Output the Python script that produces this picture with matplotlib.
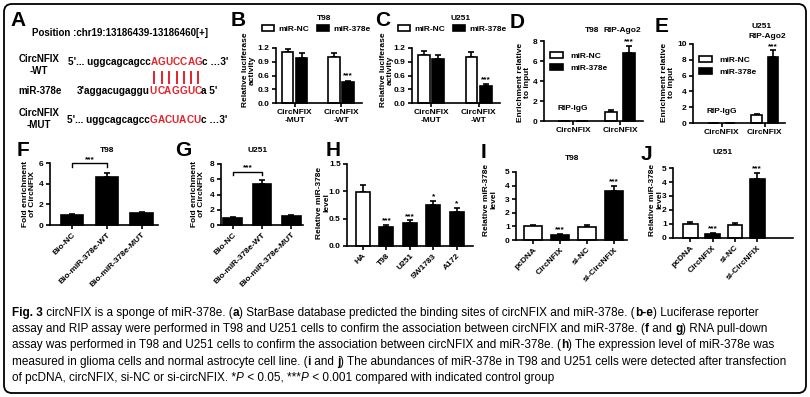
import matplotlib
matplotlib.use('Agg')
import matplotlib.pyplot as plt
from matplotlib import font_manager
from matplotlib.patches import Patch, FancyBboxPatch
import numpy as np

W, H = 810, 397

# ---------------- data ----------------
luc_groups = ['CircNFIX\n-MUT', 'CircNFIX\n-WT']
b_nc, b_nc_err = [1.11, 1.01], [0.07, 0.09]
b_mir, b_mir_err = [0.99, 0.45], [0.09, 0.04]
c_nc, c_nc_err = [1.05, 1.00], [0.08, 0.12]
c_mir, c_mir_err = [0.96, 0.37], [0.09, 0.04]
luc_stars = ['', '***']

rip_groups = ['CircNFIX', 'CircNFIX']
d_nc, d_nc_err = [0.04, 0.95], [0.0, 0.15]
d_mir, d_mir_err = [0.04, 6.8], [0.0, 0.75]
e_nc, e_nc_err = [0.05, 1.02], [0.0, 0.15]
e_mir, e_mir_err = [0.05, 8.3], [0.0, 0.9]

pull_labels = ['Bio-NC', 'Bio-miR-378e-WT', 'Bio-miR-378e-MUT']
f_vals, f_err = [1.0, 4.6, 1.15], [0.1, 0.45, 0.15]
g_vals, g_err = [0.95, 5.35, 1.2], [0.12, 0.55, 0.12]

cell_labels = ['HA', 'T98', 'U251', 'SW1783', 'A172']
h_vals = [0.98, 0.35, 0.42, 0.75, 0.63]
h_err = [0.14, 0.04, 0.05, 0.08, 0.07]
h_stars = ['', '***', '***', '*', '*']
h_fill = ['white', 'black', 'black', 'black', 'black']

tf_labels = ['pcDNA', 'CircNFIX', 'si-NC', 'si-CircNFIX']
i_vals, i_err = [1.0, 0.35, 0.95, 3.6], [0.12, 0.07, 0.12, 0.4]
j_vals, j_err = [1.02, 0.32, 0.93, 4.2], [0.1, 0.06, 0.15, 0.42]
tf_stars = ['', '***', '', '***']
tf_fill = ['white', 'black', 'white', 'black']

RED = '#e8202a'

# ---------------- fonts ----------------
names = {f.name for f in font_manager.fontManager.ttflist}
NARROW = 'Liberation Sans Narrow' if 'Liberation Sans Narrow' in names else 'Liberation Sans'
WIDE = 'Liberation Sans'
plt.rcParams['font.family'] = [NARROW, 'DejaVu Sans']
plt.rcParams['font.weight'] = 'bold'
FS = 6.0

fig = plt.figure(figsize=(W / 100, H / 100), dpi=100)
bg = fig.add_axes([0, 0, 1, 1], zorder=0)
bg.set_xlim(0, W)
bg.set_ylim(H, 0)
bg.axis('off')
renderer = fig.canvas.get_renderer()

# outer frame
bg.add_patch(FancyBboxPatch((4, 4), W - 8, H - 8, boxstyle='round,pad=0,rounding_size=8',
                            facecolor='none', edgecolor='black', linewidth=1.3))


def width(txt, **kw):
    a = bg.text(0, 0, '|' + txt + '|', **kw)
    b = bg.text(0, 0, '||', **kw)
    w = a.get_window_extent(renderer).width - b.get_window_extent(renderer).width
    a.remove()
    b.remove()
    return w


def runs(x, y, parts, size, family, draw=True):
    """Draw text pieces one after another on a line; return char centres of red pieces."""
    centres = []
    for txt, st in parts:
        kw = dict(fontsize=size, family=family, va='center', ha='left',
                  fontweight='bold' if st in ('b', 'r') else 'normal',
                  fontstyle='italic' if st == 'i' else 'normal',
                  color=RED if st == 'r' else 'black')
        if st == 'r':
            for ch in txt:
                w = width(ch, **kw)
                if draw:
                    bg.text(x, y, ch, **kw)
                centres.append(x + w / 2)
                x += w
        else:
            if draw:
                bg.text(x, y, txt, **kw)
            x += width(txt, **kw)
    return centres if draw else x


def letter(x, y, s):
    bg.text(x, y, s, fontsize=15, fontweight='bold', family=WIDE, ha='center', va='center')


def ylab(x, y, s):
    bg.text(x, y, s, rotation=90, ha='center', va='center', fontsize=FS,
            multialignment='center', linespacing=1.0)


def ctext(x, y, s, size=FS):
    bg.text(x, y, s, ha='center', va='center', fontsize=size)


def add_ax(l, t, r, b, xlim, yticks, fmt='%g'):
    ax = fig.add_axes([l / W, 1 - b / H, (r - l) / W, (b - t) / H], zorder=2)
    for s in ('top', 'right'):
        ax.spines[s].set_visible(False)
    for s in ('left', 'bottom'):
        ax.spines[s].set_linewidth(1.2)
    ax.tick_params(direction='out', length=3, width=1.2, labelsize=FS, pad=1.5)
    ax.patch.set_alpha(0)
    ax.set_xlim(*xlim)
    ax.set_ylim(yticks[0], yticks[-1])
    ax.set_yticks(yticks)
    ax.set_yticklabels([fmt % v for v in yticks])
    return ax


def bars(ax, x, vals, errs, fills, w):
    ax.bar(x, vals, w, color=fills, edgecolor='black', linewidth=1.2, zorder=2, clip_on=False)
    ax.errorbar(x, vals, yerr=[np.zeros(len(vals)), errs], fmt='none', ecolor='black',
                elinewidth=1.2, capsize=2.5, capthick=1.2, zorder=1, clip_on=False)


def stars(ax, x, vals, errs, marks, pad):
    for xi, v, e, m in zip(x, vals, errs, marks):
        if m:
            ax.text(xi, v + e + pad, m, ha='center', va='bottom', fontsize=FS, clip_on=False)


# ---------------- panel A ----------------
letter(18, 20, 'A')
bg.text(32, 33, 'Position :chr19:13186439-13186460[+]', fontsize=7, family=WIDE,
        va='center', ha='left')
bg.text(39, 65, 'CircNFIX\n-WT', fontsize=7, family=WIDE, ha='center', va='center',
        multialignment='center', linespacing=1.3)
bg.text(40, 91, 'miR-378e', fontsize=7, family=WIDE, ha='center', va='center')
bg.text(39, 119, 'CircNFIX\n-MUT', fontsize=7, family=WIDE, ha='center', va='center',
        multialignment='center', linespacing=1.3)
cw = runs(68, 62, [("5'... uggcagcagcc", 'b'), ('AGUCCAG', 'r'), ("c …3'", 'b')], 7.2, WIDE)
runs(77, 91, [("3'aggacugaggu", 'b'), ('UCAGGUC', 'r'), ("a 5'", 'b')], 7.2, WIDE)
runs(67, 120, [("5'... uggcagcagcc", 'b'), ('GACUACU', 'r'), ("c …3'", 'b')], 7.2, WIDE)
for cx in cw:
    bg.plot([cx, cx], [72, 83], color=RED, lw=1.4)

# ---------------- panels B, C ----------------
off, bw = 0.15, 0.25
leg_handles = [Patch(facecolor='white', edgecolor='black', linewidth=1.2),
               Patch(facecolor='black', edgecolor='black', linewidth=1.2)]
for (l, r, nc, nce, mir, mire, ttl, lx, ly_lab, let) in [
        (276, 362, b_nc, b_nc_err, b_mir, b_mir_err, 'T98', 238, 249, 'B'),
        (412, 500, c_nc, c_nc_err, c_mir, c_mir_err, 'U251', 383, 387, 'C')]:
    ax = add_ax(l, 48, r, 103, (-0.4, 1.45), [0, 0.3, 0.6, 0.9, 1.2], '%.1f')
    x = np.arange(len(luc_groups))
    bars(ax, x - off, nc, nce, 'white', bw)
    bars(ax, x + off, mir, mire, 'black', bw)
    stars(ax, x + off, mir, mire, luc_stars, 0.02)
    ax.set_xticks(x)
    ax.set_xticklabels(luc_groups, linespacing=1.1)
    ax.legend(leg_handles, ['miR-NC', 'miR-378e'], ncol=2, frameon=False, loc='center left',
              bbox_to_anchor=(l - 14, 29), bbox_transform=bg.transData, fontsize=FS,
              handlelength=1.4, handleheight=0.6, columnspacing=0.9, handletextpad=0.6,
              borderpad=0, borderaxespad=0)
    ctext((l + r) / 2 + 5, 19, ttl)
    letter(lx, 20, let)
    ylab(ly_lab, 70, 'Relative luciferase\nactivity')

# ---------------- panels D, E ----------------
for (l, t, r, b, ymax, nc, nce, mir, mire, xl, igg_y, ago_y, let, lxy, ylx, leg_xy) in [
        (544, 41, 643, 121, 8, d_nc, d_nc_err, d_mir, d_mir_err, (-0.62, 1.49), 1.2, 9.0,
         'D', (517, 22), 524, (550, 62)),
        (693, 44, 785, 123, 10, e_nc, e_nc_err, e_mir, e_mir_err, (-0.67, 1.47), 1.4, 10.9,
         'E', (662, 27), 668, (699, 66))]:
    ax = add_ax(l, t, r, b, xl, list(range(0, ymax + 1, 2)))
    x = np.arange(len(rip_groups))
    bars(ax, x - 0.19, nc, nce, 'white', bw)
    bars(ax, x + 0.19, mir, mire, 'black', bw)
    stars(ax, [1 + 0.19], [mir[1]], [mire[1]], ['***'], 0.0)
    ax.set_xticks(x)
    ax.set_xticklabels(rip_groups)
    ax.text(0, igg_y, 'RIP-IgG', ha='center', va='center', fontsize=FS)
    ax.text(1.05, ago_y, 'RIP-Ago2', ha='center', va='center', fontsize=FS, clip_on=False)
    ax.legend(leg_handles, ['miR-NC', 'miR-378e'], ncol=1, frameon=False, loc='center left',
              bbox_to_anchor=leg_xy, bbox_transform=bg.transData, fontsize=FS,
              handlelength=1.6, handleheight=0.7, handletextpad=0.8, labelspacing=0.6,
              borderpad=0, borderaxespad=0)
    letter(*lxy, let)
    ylab(ylx, 82, 'Enrichment relative\nto input')
ctext(592, 31, 'T98')
ctext(762, 26, 'U251')

# ---------------- panels F, G ----------------
for (l, r, t, vals, err, yt, xl, br_y, ttl, tx, let, lx, ylx) in [
        (50, 158, 163, f_vals, f_err, [0, 2, 4, 6], (-0.63, 2.47), 6.0, 'T98', 107, 'F', 23, 29),
        (221, 303, 164, g_vals, g_err, [0, 2, 4, 6, 8], (-0.4, 2.4), 7.0, 'U251', 258, 'G', 183, 198)]:
    ax = add_ax(l, t, r, 225, xl, yt)
    x = np.arange(len(pull_labels))
    bars(ax, x, vals, err, 'black', 0.64)
    ax.set_xticks(x)
    ax.set_xticklabels(pull_labels, rotation=45, ha='right', rotation_mode='anchor')
    dy = yt[-1] * 0.06
    ax.plot([0, 0, 1, 1], [br_y - dy, br_y, br_y, br_y - dy], color='black', lw=1.0, clip_on=False)
    ax.text(0.5, br_y, '***', ha='center', va='bottom', fontsize=FS, clip_on=False)
    ctext(tx, 151, ttl)
    letter(lx, 151, let)
    ylab(ylx, 194, 'Fold enrichment\nof CircNFIX')

# ---------------- panel H ----------------
ax = add_ax(347, 164, 473, 246, (-0.68, 4.7), [0, 0.5, 1.0, 1.5], '%.1f')
x = np.arange(len(cell_labels))
bars(ax, x, h_vals, h_err, h_fill, 0.6)
stars(ax, x, h_vals, h_err, h_stars, 0.0)
ax.set_xticks(x)
ax.set_xticklabels(cell_labels, rotation=45, ha='right', rotation_mode='anchor')
letter(333, 151, 'H')
ylab(323, 203, 'Relative miR-378e\nlevel')

# ---------------- panels I, J ----------------
for (l, t, r, b, vals, err, xl, ttl, tx, ty, let, lxy, ylx) in [
        (516, 172, 627, 240, i_vals, i_err, (-0.63, 3.48), 'T98', 572, 158, 'I', (483, 153), 490),
        (673, 168, 793, 238, j_vals, j_err, (-0.77, 4.6), 'U251', 723, 152, 'J', (646, 154), 656)]:
    ax = add_ax(l, t, r, b, xl, [0, 1, 2, 3, 4, 5])
    x = np.arange(len(tf_labels))
    bars(ax, x, vals, err, tf_fill, 0.66)
    stars(ax, x, vals, err, tf_stars, 0.05)
    ax.set_xticks(x)
    ax.set_xticklabels(tf_labels, rotation=45, ha='right', rotation_mode='anchor')
    ctext(tx, ty, ttl)
    letter(*lxy, let)
    ylab(ylx, 200, 'Relative miR-378e\nlevel')

# ---------------- caption ----------------
caption = [
    [('Fig. 3', 'b'), (' circNFIX is a sponge of miR-378e. (', 'n'), ('a', 'b'),
     (') StarBase database predicted the binding sites of circNFIX and miR-378e. (', 'n'),
     ('b-e', 'b'), (') Luciferase reporter', 'n')],
    [('assay and RIP assay were performed in T98 and U251 cells to confirm the association '
      'between circNFIX and miR-378e. (', 'n'), ('f', 'b'), (' and ', 'n'), ('g', 'b'),
     (') RNA pull-down', 'n')],
    [('assay was performed in T98 and U251 cells to confirm the association between circNFIX '
      'and miR-378e. (', 'n'), ('h', 'b'), (') The expression level of miR-378e was', 'n')],
    [('measured in glioma cells and normal astrocyte cell line. (', 'n'), ('i', 'b'),
     (' and ', 'n'), ('j', 'b'),
     (') The abundances of miR-378e in T98 and U251 cells were detected after transfection', 'n')],
    [('of pcDNA, circNFIX, si-NC or si-circNFIX. *', 'n'), ('P', 'i'), (' < 0.05, ***', 'n'),
     ('P', 'i'), (' < 0.001 compared with indicated control group', 'n')],
]
# pick the caption size so that the widest line spans the text block
widest = max(runs(0, 0, line, 10, NARROW, draw=False) for line in caption)
cap_fs = 10 * 780 / widest
for k, line in enumerate(caption):
    runs(12, 313 + 16.2 * k, line, cap_fs, NARROW)

fig.savefig('out.png', dpi=100)
